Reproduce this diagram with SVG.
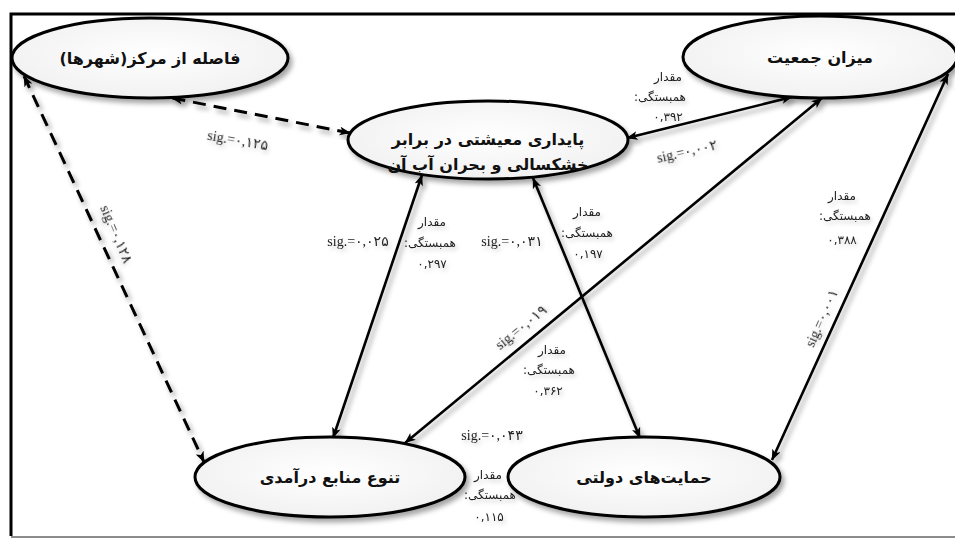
<svg xmlns="http://www.w3.org/2000/svg" width="955" height="539" viewBox="0 0 955 539">
<defs>
<filter id="sh" x="-20%" y="-20%" width="140%" height="140%">
<feDropShadow dx="3" dy="4" stdDeviation="2.5" flood-color="#000" flood-opacity="0.35"/>
</filter>
<filter id="tsh" x="-20%" y="-50%" width="140%" height="200%">
<feDropShadow dx="2" dy="3" stdDeviation="2" flood-color="#000" flood-opacity="0.18"/>
</filter>
<radialGradient id="fillg" cx="50%" cy="45%" r="60%">
<stop offset="0" stop-color="#ffffff"/>
<stop offset="1" stop-color="#f0f0f0"/>
</radialGradient>
<marker id="arr" viewBox="0 0 10 8" refX="9.5" refY="4" markerWidth="11" markerHeight="9" markerUnits="userSpaceOnUse" orient="auto-start-reverse">
<path d="M0,0 L10,4 L0,8 L2.5,4 z" fill="#000"/>
</marker>
<style>
.node ellipse{fill:url(#fillg);stroke:#000;stroke-width:3;filter:url(#sh)}
.nt{font-family:"DejaVu Sans",sans-serif;font-weight:bold;font-size:16px;fill:#111;text-anchor:middle;direction:rtl}
.con line{stroke:#000;stroke-width:2.6;fill:none;marker-start:url(#arr);marker-end:url(#arr);filter:url(#sh)}
.con line.d{stroke-dasharray:13 8;stroke-width:3}
.lbl{font-family:"Liberation Serif","DejaVu Sans",serif;font-size:14px;fill:#222;filter:url(#tsh)}
.fa{font-family:"DejaVu Sans",sans-serif;font-size:12px;fill:#222;text-anchor:middle;direction:rtl;filter:url(#tsh)}
.num{font-family:"DejaVu Sans",sans-serif;font-size:12px;fill:#222;text-anchor:middle;filter:url(#tsh)}
</style>
</defs>
<rect x="0" y="0" width="955" height="539" fill="#fff"/>
<!-- frame -->
<path d="M11,536 L11,14 L955,14" fill="none" stroke="#000" stroke-width="3"/>
<line x1="11" y1="537" x2="955" y2="537" stroke="#666" stroke-width="1.5"/>

<g id="connectors" class="con">
<line class="d" x1="350" y1="133" x2="172" y2="98"/>
<line class="d" x1="24" y1="76" x2="204" y2="462"/>
<line x1="627" y1="138" x2="792" y2="97"/>
<line x1="405" y1="443" x2="822" y2="98"/>
<line x1="422" y1="175" x2="333" y2="438"/>
<line x1="533" y1="178" x2="640" y2="438"/>
<line x1="948" y1="74" x2="772" y2="460"/>
<line x1="430" y1="450" x2="548" y2="450"/>
</g>

<g id="n-distance" class="node">
<ellipse cx="150" cy="58" rx="138" ry="40"/>
<text class="nt" x="150" y="64">فاصله از مرکز(شهرها)</text>
</g>
<g id="n-sustain" class="node">
<ellipse cx="488" cy="140" rx="140" ry="39"/>
<text class="nt" x="488" y="145">پایداری معیشتی در برابر</text>
<text class="nt" x="488" y="170">خشکسالی و بحران آب آن</text>
</g>
<g id="n-population" class="node">
<ellipse cx="820" cy="57" rx="137" ry="41"/>
<text class="nt" x="820" y="63">میزان جمعیت</text>
</g>
<g id="n-income" class="node">
<ellipse cx="330" cy="477" rx="135" ry="40"/>
<text class="nt" x="330" y="483">تنوع منابع درآمدی</text>
</g>
<g id="n-support" class="node">
<ellipse cx="644" cy="477" rx="136" ry="40"/>
<text class="nt" x="644" y="483">حمایت&#x200C;های دولتی</text>
</g>

<g id="labels">
<text class="lbl" text-anchor="middle" transform="translate(237,145) rotate(10)">sig.=۰,۱۲۵</text>
<text class="lbl" text-anchor="middle" transform="translate(112,236) rotate(67)">sig.=۰,۱۲۸</text>

<text class="fa" x="668" y="81">مقدار</text>
<text class="fa" x="660" y="101">همبستگی:</text>
<text class="num" x="668" y="121">۰,۳۹۲</text>
<text class="lbl" text-anchor="middle" transform="translate(688,156) rotate(-13)">sig.=۰,۰۰۲</text>

<text class="lbl" text-anchor="middle" x="358" y="246">sig.=۰,۰۲۵</text>
<text class="fa" x="432" y="226">مقدار</text>
<text class="fa" x="430" y="247">همبستگی:</text>
<text class="num" x="432" y="268">۰,۲۹۷</text>

<text class="lbl" text-anchor="middle" x="512" y="246">sig.=۰,۰۳۱</text>
<text class="fa" x="587" y="216">مقدار</text>
<text class="fa" x="587" y="237">همبستگی:</text>
<text class="num" x="588" y="258">۰,۱۹۷</text>

<text class="lbl" text-anchor="middle" transform="translate(524,331) rotate(-39)">sig.=۰,۰۱۹</text>
<text class="fa" x="552" y="354">مقدار</text>
<text class="fa" x="549" y="374">همبستگی:</text>
<text class="num" x="548" y="395">۰,۳۶۲</text>

<text class="fa" x="842" y="200">مقدار</text>
<text class="fa" x="845" y="220">همبستگی:</text>
<text class="num" x="842" y="244">۰,۳۸۸</text>
<text class="lbl" text-anchor="middle" transform="translate(826,320) rotate(-66)">sig.=۰,۰۰۱</text>

<text class="lbl" text-anchor="middle" x="492" y="440">sig.=۰,۰۴۳</text>
<text class="fa" x="488" y="479">مقدار</text>
<text class="fa" x="490" y="499">همبستگی:</text>
<text class="num" x="489" y="521">۰,۱۱۵</text>
</g>
</svg>
